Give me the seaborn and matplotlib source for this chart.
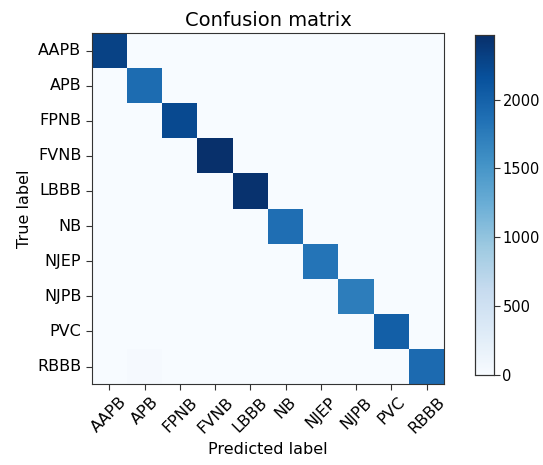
import numpy as np
import pandas as pd
import matplotlib
matplotlib.use("Agg")
import matplotlib.pyplot as plt
import seaborn as sns

classes = ["AAPB", "APB", "FPNB", "FVNB", "LBBB", "NB", "NJEP", "NJPB", "PVC", "RBBB"]
diag_counts = [2300, 1900, 2230, 2470, 2450, 1880, 1820, 1740, 2020, 1920]
# the only visible off-diagonal tint: true RBBB predicted as APB
off_diag = [("RBBB", "APB", 30)]

cm = pd.DataFrame(np.zeros((len(classes), len(classes))), index=classes, columns=classes)
for c, v in zip(classes, diag_counts):
    cm.loc[c, c] = v
for t, p, v in off_diag:
    cm.loc[t, p] = v

sns.set_style("white")
plt.rcParams.update({"text.color": "black", "axes.labelcolor": "black",
                     "xtick.color": "black", "ytick.color": "black"})
fig = plt.figure(figsize=(5.43, 4.65), dpi=100)
ax = fig.add_axes([0.169, 0.174, 0.649, 0.755])
cax = fig.add_axes([0.875, 0.194, 0.035, 0.731])

sns.heatmap(cm, cmap="Blues", vmin=0, ax=ax, cbar_ax=cax,
            cbar_kws={"ticks": [0, 500, 1000, 1500, 2000]})

for a in (ax, cax):
    a.set_frame_on(True)
    for s in a.spines.values():
        s.set_visible(True)
        s.set_color("#333333")
        s.set_linewidth(0.8)

ax.set_title("Confusion matrix", fontsize=14, pad=5)
ax.set_xlabel("Predicted label", fontsize=11.5)
ax.set_ylabel("True label", fontsize=11.5)
ax.set_xticklabels(classes, rotation=45, fontsize=11.5)
ax.set_yticklabels(classes, rotation=0, fontsize=11.5)
ax.tick_params(axis="both", length=4, width=0.8, color="#333333", bottom=True, left=True)
cax.tick_params(labelsize=10.5, length=4, width=0.8, pad=2, color="#333333", right=True)

fig.savefig("out.png", dpi=100)
